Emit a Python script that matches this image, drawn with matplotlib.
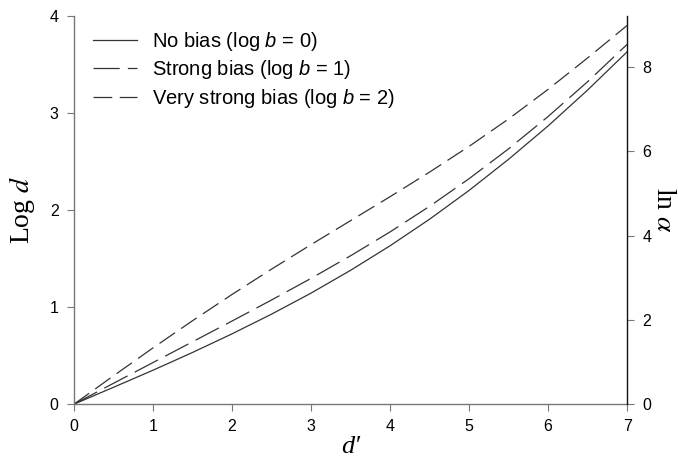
import math
import numpy as np
import matplotlib
matplotlib.use('Agg')
import matplotlib.pyplot as plt

# d' values and Log d for the three bias levels
d_prime = [0, 0.5, 1, 1.5, 2, 2.5, 3, 3.5, 4, 4.5, 5, 5.5, 6, 6.5, 7]
no_bias = [0, 0.174, 0.350, 0.533, 0.725, 0.928, 1.145, 1.380, 1.633, 1.907, 2.204, 2.525, 2.869, 3.239, 3.633]
strong_bias = [0, 0.215, 0.429, 0.643, 0.857, 1.074, 1.297, 1.530, 1.776, 2.040, 2.325, 2.633, 2.966, 3.325, 3.710]
very_strong_bias = [0, 0.292, 0.580, 0.860, 1.131, 1.392, 1.645, 1.892, 2.139, 2.393, 2.658, 2.941, 3.246, 3.570, 3.905]

labels = ['No bias (log $b$ = 0)', 'Strong bias (log $b$ = 1)', 'Very strong bias (log $b$ = 2)']

plt.rcParams['font.family'] = ['Liberation Sans', 'DejaVu Sans']
plt.rcParams['mathtext.fontset'] = 'custom'
plt.rcParams['mathtext.it'] = 'Liberation Sans:italic'
plt.rcParams['mathtext.rm'] = 'Liberation Sans'

fig = plt.figure(figsize=(6.78, 4.63), dpi=100)
ax = fig.add_axes([0.109, 0.127, 0.816, 0.838])

col = '#333333'
ax.plot(d_prime, no_bias, color=col, lw=0.9, label=labels[0])
ax.plot(d_prime, strong_bias, color=col, lw=0.9, dashes=(21, 6.5), label=labels[1])
ax.plot(d_prime, very_strong_bias, color=col, lw=0.9, dashes=(15, 6), label=labels[2])

ax.set_xlim(0, 7)
ax.set_ylim(0, 4)
ax.set_xticks(range(8))
ax.set_yticks(range(5))
ax.spines['top'].set_visible(False)
ax.spines['right'].set_visible(False)
for s in ['left', 'bottom']:
    ax.spines[s].set_color('#777777')
    ax.spines[s].set_linewidth(1.0)
ax.tick_params(direction='out', length=5, width=0.8, color='#777777', labelsize=11.5, pad=6)

ax.set_xlabel('d\u2032', family='Liberation Serif', style='italic', fontsize=19, va='top')
ax.xaxis.set_label_coords(0.5, -0.083)
yl = ax.set_ylabel('Log $d$', family='Liberation Serif', fontsize=20, va='center', ha='center')
yl.set_math_fontfamily('stix')
ax.yaxis.set_label_coords(-0.093, 0.5)

# right axis: ln alpha = ln(10) * log d
ax2 = ax.twinx()
ax2.set_ylim(0, 4 * math.log(10))
ax2.set_yticks([0, 2, 4, 6, 8])
for s in ['top', 'left', 'bottom']:
    ax2.spines[s].set_visible(False)
ax2.spines['right'].set_color('#111111')
ax2.spines['right'].set_linewidth(1.0)
ax2.tick_params(direction='out', length=5, width=0.8, color='#777777', labelsize=11.5, pad=6)
rl = ax2.set_ylabel(r'ln $\alpha$', family='Liberation Serif', fontsize=20, rotation=270,
                    va='center', ha='center')
rl.set_math_fontfamily('stix')
ax2.yaxis.set_label_coords(1.066, 0.5)

leg = ax.legend(loc='upper left', bbox_to_anchor=(0.034, 0.965), frameon=False, fontsize=14.5,
                handlelength=2.2, handletextpad=0.75, labelspacing=0.28,
                borderpad=0, borderaxespad=0)
for line in leg.get_lines():
    line.set_linewidth(0.9)

fig.savefig('out.png', dpi=100)
